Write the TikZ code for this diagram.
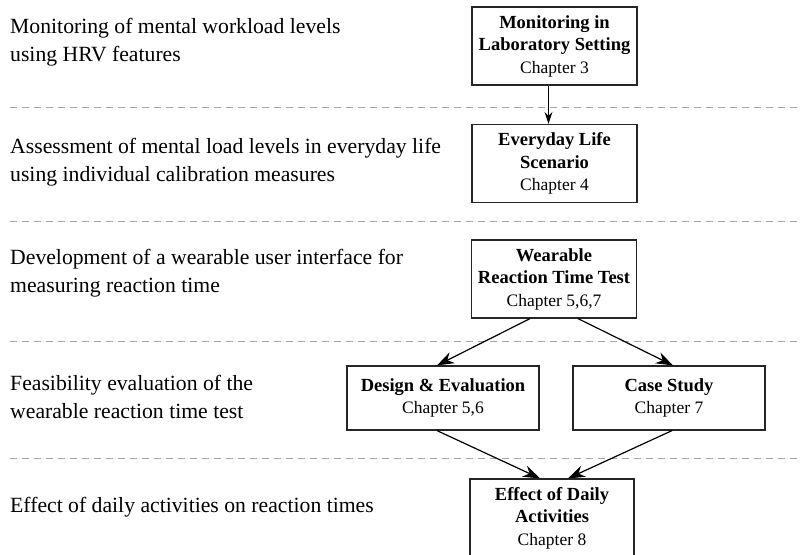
\documentclass[tikz,border=0pt]{standalone}
\usepackage{fontspec}
\setmainfont{Liberation Serif}
\usetikzlibrary{arrows.meta,calc}

\newcommand\chaptxt[1]{{\mdseries\fontsize{17.5}{22.5}\selectfont #1}}

\tikzset{
  level/.style={anchor=west,align=left,inner sep=0pt,font=\fontsize{21.7}{27.5}\selectfont},
  chapbox/.style={draw=black!85,line width=1.2pt,align=center,inner sep=0pt,
    minimum width=165,minimum height=78,font=\bfseries\fontsize{18.5}{22.5}\selectfont},
  halfbox/.style={chapbox,minimum width=192,minimum height=64},
  sep/.style={gray!70,line width=0.9pt,dash pattern=on 7pt off 5pt},
  flow/.style={line width=1.2pt,-{Stealth[length=17pt,width=12pt]}}
}

\begin{document}
\begin{tikzpicture}[x=1pt,y=-1pt]
\clip (0,0) rectangle (802,554);

% separators
\draw[sep] (10,107) -- (802,107);
\draw[sep] (10,221) -- (802,221);
\draw[sep] (10,341) -- (802,341);
\draw[sep] (10,458) -- (802,458);

% left column
\node[level] (hrv) at (10,42) {Monitoring of mental workload levels\\using HRV features};
\node[level] (calib) at (10,162) {Assessment of mental load levels in everyday life\\using individual calibration measures};
\node[level] (ui) at (10,273) {Development of a wearable user interface for\\measuring reaction time};
\node[level] (feas) at (10,397) {Feasibility evaluation of the\\wearable reaction time test};
\node[level,anchor=base west] (effect) at (10,512) {Effect of daily activities on reaction times};

% chapters
\node[chapbox] (lab) at (554.5,46) {Monitoring in\\Laboratory Setting\\\chaptxt{Chapter 3}};
\node[chapbox] (life) at (554.5,163.5) {Everyday Life\\Scenario\\\chaptxt{Chapter 4}};
\node[chapbox] (wrt) at (554,279) {Wearable\\Reaction Time Test\\\chaptxt{Chapter 5,6,7}};
\node[halfbox] (design) at (443,398) {Design \& Evaluation\\\chaptxt{Chapter 5,6}};
\node[halfbox] (case) at (669,398) {Case Study\\\chaptxt{Chapter 7}};
\node[chapbox,minimum width=164] (daily) at (552,518) {Effect of Daily\\Activities\\\chaptxt{Chapter 8}};

\draw[flow,-{Stealth[length=12pt,width=8pt]}] ($(lab.south)+(-6,0)$) -- ($(life.north)+(-6,0)$);
\draw[flow] ($(wrt.south)+(-24,0)$) -- ($(design.north)+(-6,0)$);
\draw[flow] ($(wrt.south)+(24,0)$) -- ($(case.north)+(4,0)$);
\draw[flow] ($(design.south)+(-6,0)$) -- ($(daily.north)+(-12,0)$);
\draw[flow] ($(case.south)+(3,0)$) -- ($(daily.north)+(16,0)$);
\end{tikzpicture}
\end{document}
